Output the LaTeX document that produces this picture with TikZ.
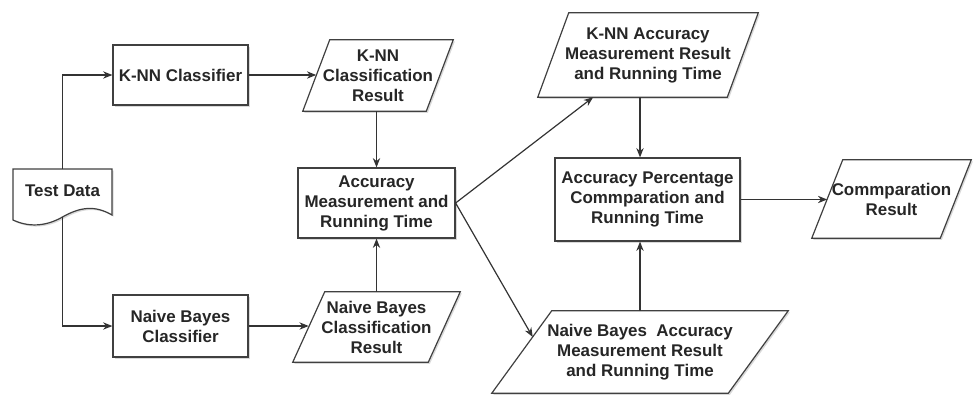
\documentclass[tikz,border=0pt]{standalone}
\usepackage{fontspec}
\setmainfont{Liberation Sans}
\usetikzlibrary{arrows.meta,calc,shadows,backgrounds}
\begin{document}
\begin{tikzpicture}[x=0.75pt,y=-0.75pt,
  lbl/.style={align=center, font=\bfseries\fontsize{12.7}{15}\selectfont, text=black!85, inner sep=0pt},
  myshadow/.style={drop shadow={shadow xshift=1.2pt, shadow yshift=-1.2pt, opacity=0.15, fill=black}},
  boxnode/.style={lbl, draw=black!75, line width=0.9pt, fill=white, myshadow},
  pshape/.style={draw=black!75, line width=0.9pt, fill=white, myshadow},
  conn/.style={draw=black!80, line width=0.9pt, -{Stealth[length=7pt,width=5.5pt]}}
]
\useasboundingbox (0,0) rectangle (973,396);

% nodes
\node[lbl, minimum width=74.25pt, minimum height=36pt] (td) at (62.5,191) {Test Data};
\node[boxnode, minimum width=101.25pt, minimum height=45pt] (knn) at (180.5,75) {K-NN Classifier};
\node[boxnode, minimum width=101.25pt, minimum height=46.5pt] (nbc) at (180.5,326) {Naive Bayes\\Classifier};
\node[lbl, minimum width=92.25pt, minimum height=53.25pt] (kres) at (378,75.5) {K-NN\\Classification\\Result};
\node[lbl, minimum width=101.25pt, minimum height=52.5pt] (nres) at (376.5,327) {Naive Bayes\\Classification\\Result};
\node[boxnode, minimum width=117.75pt, minimum height=52.5pt] (acc) at (376.5,203) {Accuracy\\Measurement and\\Running Time};
\node[lbl, minimum width=141.75pt, minimum height=63pt] (kacc) at (648,55) {K-NN Accuracy\\Measurement Result\\and Running Time};
\node[lbl, minimum width=177pt, minimum height=61.5pt] (nacc) at (640,352) {Naive Bayes~ Accuracy\\Measurement Result\\and Running Time};
\node[boxnode, minimum width=138.75pt, minimum height=62.25pt] (pct) at (647.5,199.5) {Accuracy Percentage\\Commparation and\\Running Time};
\node[lbl, minimum width=96pt, minimum height=58.5pt] (cres) at (891.5,199) {Commparation\\Result};

\newcommand\parashape[2]{%
  \path[pshape] ($(#1.north west)+(#2/2,0)$) -- ($(#1.north east)+(#2/2,0)$)
    -- ($(#1.south east)-(#2/2,0)$) -- ($(#1.south west)-(#2/2,0)$) -- cycle;}

\begin{pgfonlayer}{background}
  \path[pshape] (13,169) -- (112,169) -- (112,215)
     .. controls (95,205) and (80,207) .. (62.5,217)
     .. controls (45,227) and (28,227) .. (13,220) -- cycle;
  \parashape{kres}{27}
  \parashape{nres}{32}
  \parashape{kacc}{31}
  \parashape{nacc}{60}
  \parashape{cres}{31}
\end{pgfonlayer}

% connectors
\coordinate (tdtop) at (62.5,169);
\coordinate (tdbot) at (62.5,217);
\draw[conn] (tdtop) |- (knn.west);
\draw[conn] (tdbot) |- (nbc.west);
\draw[conn] (knn.east) -- (knn.east -| kres.west);
\draw[conn] (nbc.east) -- (nbc.east -| nres.west);
\draw[conn] (acc.north |- kres.south) -- (acc.north);
\draw[conn] (acc.south |- nres.north) -- (acc.south);
\draw[conn] (acc.east) -- (kacc);
\coordinate (nbin) at ($(nacc.west)+(11,-15)$);
\draw[conn] (acc.east) -- (nbin);
\draw[conn] (kacc.south -| nacc.north) -- (nacc.north |- pct.north);
\draw[conn] (nacc.north) -- (nacc.north |- pct.south);
\draw[conn] (pct.east) -- (pct.east -| cres.west);
\end{tikzpicture}
\end{document}
